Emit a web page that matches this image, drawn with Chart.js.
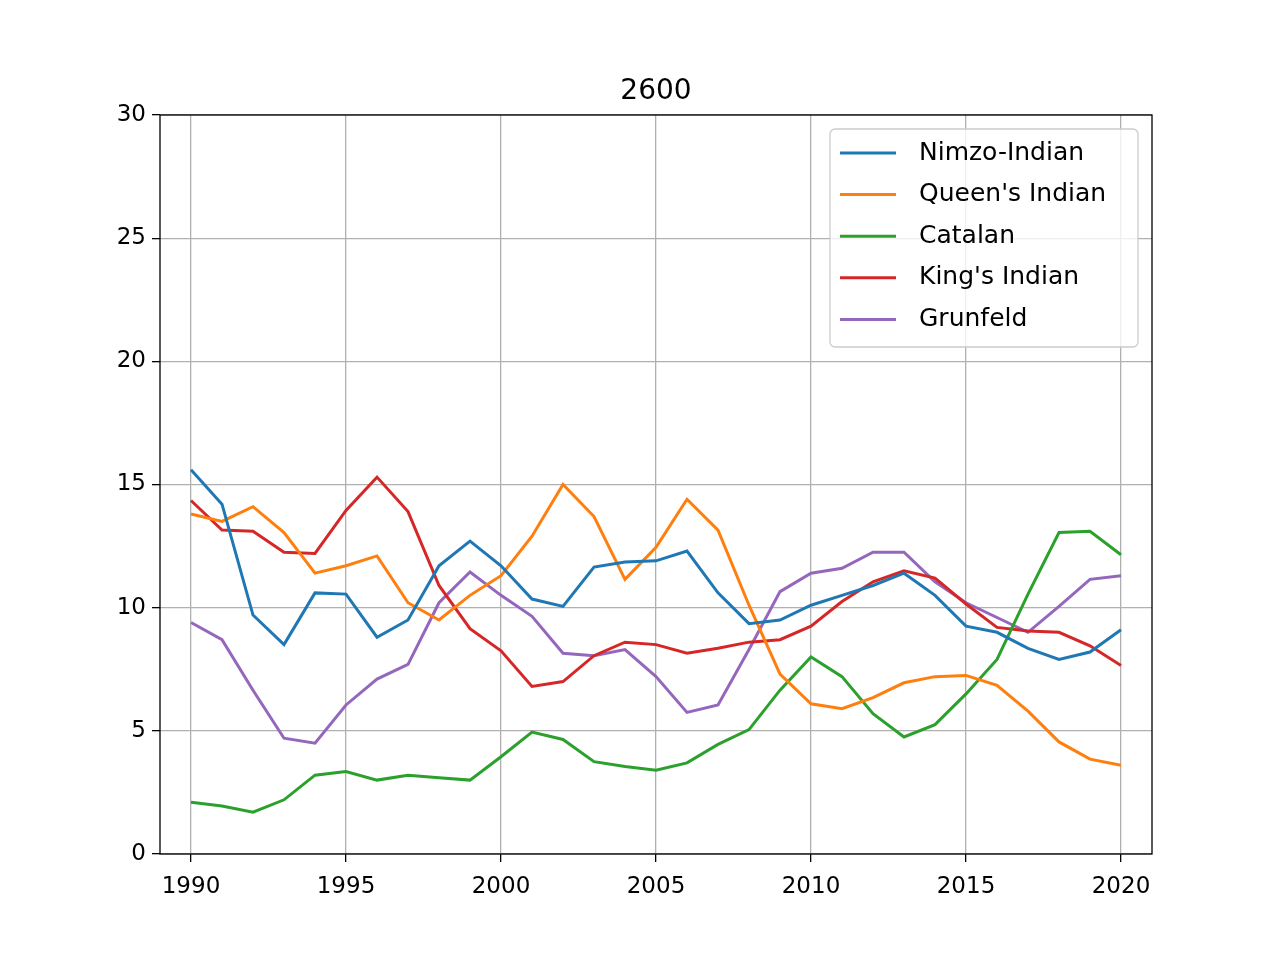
<!DOCTYPE html>
<html>
<head>
<meta charset="utf-8">
<script src="https://cdn.jsdelivr.net/npm/chart.js@4"></script>
<style>
  body { margin: 0; background: #fff; }
  #wrap { width: 1280px; height: 960px; }
</style>
</head>
<body>
<div id="wrap"><canvas id="c" width="1280" height="960"></canvas></div>
<script>
// Jahre und Serienwerte (Prozent)
const years = [];
for (let y = 1990; y <= 2020; y++) years.push(y);

const nimzo = [15.6, 14.2, 9.7, 8.5, 10.6, 10.55, 8.8, 9.5, 11.7, 12.7, 11.7, 10.35, 10.05, 11.65, 11.85, 11.9, 12.3, 10.6, 9.35, 9.5, 10.1, 10.5, 10.9, 11.4, 10.5, 9.25, 9.0, 8.35, 7.9, 8.2, 9.1];
const queens = [13.8, 13.5, 14.1, 13.05, 11.4, 11.7, 12.1, 10.2, 9.5, 10.5, 11.3, 12.9, 15.0, 13.7, 11.15, 12.45, 14.4, 13.15, 10.1, 7.3, 6.1, 5.9, 6.35, 6.95, 7.2, 7.25, 6.85, 5.8, 4.55, 3.85, 3.6];
const catalan = [2.1, 1.95, 1.7, 2.2, 3.2, 3.35, 3.0, 3.2, 3.1, 3.0, 3.95, 4.95, 4.65, 3.75, 3.55, 3.4, 3.7, 4.45, 5.05, 6.65, 8.0, 7.2, 5.7, 4.75, 5.25, 6.5, 7.9, 10.55, 13.05, 13.1, 12.15];
const kings = [14.35, 13.15, 13.1, 12.25, 12.2, 13.95, 15.3, 13.9, 10.9, 9.15, 8.25, 6.8, 7.0, 8.05, 8.6, 8.5, 8.15, 8.35, 8.6, 8.7, 9.25, 10.25, 11.05, 11.5, 11.2, 10.15, 9.2, 9.05, 9.0, 8.45, 7.65];
const grunfeld = [9.4, 8.7, 6.65, 4.7, 4.5, 6.05, 7.1, 7.7, 10.2, 11.45, 10.5, 9.65, 8.15, 8.05, 8.3, 7.2, 5.75, 6.05, 8.3, 10.65, 11.4, 11.6, 12.25, 12.25, 11.05, 10.2, 9.6, 9.0, 10.05, 11.15, 11.3];

const seriesNames = ['Nimzo-Indian', "Queen's Indian", 'Catalan', "King's Indian", 'Grunfeld'];
const seriesData = [nimzo, queens, catalan, kings, grunfeld];
const colors = ['#1f77b4', '#ff7f0e', '#2ca02c', '#d62728', '#9467bd'];

const FONT = 'DejaVu Sans';

const datasets = seriesNames.map((name, i) => ({
    label: name,
    data: years.map((y, j) => ({ x: y, y: seriesData[i][j] })),
    borderColor: colors[i],
    backgroundColor: colors[i],
    borderWidth: 3,
    pointRadius: 0,
    tension: 0,
    fill: false
}));

// Titel, Rahmen und Legende im matplotlib-Stil
const mplPlugin = {
    id: 'mpl',
    afterDraw(chart) {
        const ctx = chart.ctx;
        const a = chart.chartArea;
        ctx.save();
        ctx.strokeStyle = '#000';
        ctx.lineWidth = 1.3;
        ctx.strokeRect(a.left, a.top, a.right - a.left, a.bottom - a.top);

        ctx.fillStyle = '#000';
        ctx.font = '28px "' + FONT + '"';
        ctx.textAlign = 'center';
        ctx.textBaseline = 'alphabetic';
        ctx.fillText('2600', (a.left + a.right) / 2, 99);

        // Legende
        const bx = 830, by = 129, bw = 308, bh = 218;
        ctx.fillStyle = 'rgba(255,255,255,0.8)';
        ctx.strokeStyle = '#cccccc';
        ctx.lineWidth = 1.3;
        ctx.beginPath();
        ctx.roundRect(bx, by, bw, bh, 5);
        ctx.fill();
        ctx.stroke();
        ctx.font = '25px "' + FONT + '"';
        ctx.textAlign = 'left';
        ctx.textBaseline = 'middle';
        seriesNames.forEach((name, i) => {
            const yy = 153 + i * 41.6;
            ctx.strokeStyle = colors[i];
            ctx.lineWidth = 3;
            ctx.beginPath();
            ctx.moveTo(840, yy);
            ctx.lineTo(896, yy);
            ctx.stroke();
            ctx.fillStyle = '#000';
            ctx.fillText(name, 919, yy);
        });
        ctx.restore();
    }
};

new Chart(document.getElementById('c'), {
    type: 'line',
    data: { datasets },
    options: {
        responsive: false,
        animation: false,
        layout: { padding: { left: 90, right: 128, top: 115, bottom: 56 } },
        plugins: { legend: { display: false }, tooltip: { enabled: false } },
        scales: {
            x: {
                type: 'linear',
                min: 1989,
                max: 2021,
                afterFit(s) { s.height = 50; },
                afterBuildTicks(s) { s.ticks = [1990, 1995, 2000, 2005, 2010, 2015, 2020].map(v => ({ value: v })); },
                grid: { color: '#b0b0b0', lineWidth: 1.3, tickLength: 8, tickColor: '#000' },
                border: { display: false },
                ticks: { color: '#000', font: { family: FONT, size: 23 }, padding: 11, maxRotation: 0, callback: v => String(v) }
            },
            y: {
                min: 0,
                max: 30,
                afterFit(s) { s.width = 70; },
                grid: { color: '#b0b0b0', lineWidth: 1.3, tickLength: 8, tickColor: '#000' },
                border: { display: false },
                ticks: { stepSize: 5, color: '#000', font: { family: FONT, size: 23 }, padding: 6 }
            }
        }
    },
    plugins: [mplPlugin]
});
</script>
</body>
</html>
